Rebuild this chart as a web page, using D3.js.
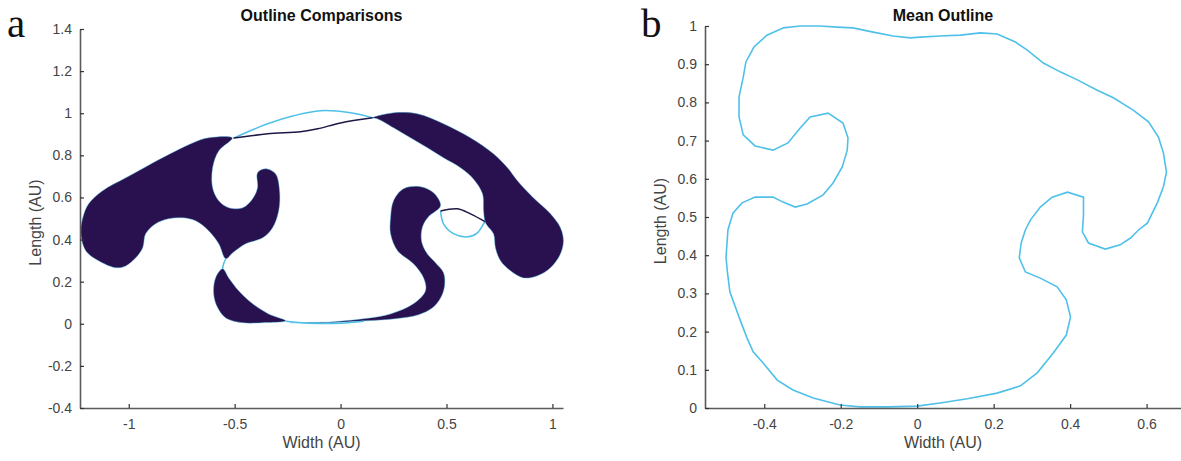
<!DOCTYPE html>
<html>
<head>
<meta charset="utf-8">
<script src="https://cdn.jsdelivr.net/npm/d3@7"></script>
<style>
  body { margin: 0; background: white; }
  #container { width: 1181px; height: 461px; }
  text { font-family: "Liberation Sans", Arial, sans-serif; }
</style>
</head>
<body>
<div id="container"></div>
<script>
// outline comparison blobs (width, length) in AU
let upperLeftBlob = [
  [-0.511, 0.882], [-0.623, 0.883], [-0.698, 0.859], [-0.778, 0.821], [-0.887, 0.764],
  [-1.014, 0.693], [-1.123, 0.632], [-1.189, 0.570], [-1.217, 0.503], [-1.226, 0.427],
  [-1.203, 0.347], [-1.142, 0.299], [-1.061, 0.266], [-1.014, 0.275], [-0.967, 0.313],
  [-0.934, 0.361], [-0.920, 0.427], [-0.873, 0.475], [-0.811, 0.499], [-0.745, 0.503],
  [-0.684, 0.489], [-0.623, 0.442], [-0.575, 0.380], [-0.542, 0.309], [-0.509, 0.337],
  [-0.448, 0.380], [-0.368, 0.408], [-0.321, 0.456], [-0.292, 0.537], [-0.288, 0.632],
  [-0.307, 0.712], [-0.354, 0.736], [-0.392, 0.717], [-0.392, 0.646], [-0.415, 0.594],
  [-0.462, 0.551], [-0.528, 0.551], [-0.575, 0.584], [-0.604, 0.646], [-0.604, 0.741],
  [-0.575, 0.821]
];
let lowerLeftBlob = [
  [-0.557, 0.261], [-0.590, 0.218], [-0.599, 0.142], [-0.580, 0.076], [-0.542, 0.028],
  [-0.462, 0.005], [-0.368, 0.005], [-0.259, 0.014], [-0.340, 0.047], [-0.415, 0.095],
  [-0.481, 0.157], [-0.528, 0.218]
];
let rightArcBlob = [
  [0.151, 0.978], [0.250, 1.002], [0.363, 0.997], [0.486, 0.950], [0.613, 0.883],
  [0.722, 0.807], [0.788, 0.741], [0.835, 0.679], [0.910, 0.598], [0.991, 0.522],
  [1.038, 0.456], [1.052, 0.394], [1.038, 0.332], [0.991, 0.266], [0.929, 0.228],
  [0.863, 0.218], [0.802, 0.252], [0.755, 0.299], [0.731, 0.361], [0.722, 0.427],
  [0.684, 0.480], [0.675, 0.537], [0.670, 0.617], [0.627, 0.688], [0.566, 0.741],
  [0.486, 0.788], [0.410, 0.836], [0.330, 0.883], [0.250, 0.931], [0.175, 0.973]
];
let sBlob = [
  [0.297, 0.641], [0.377, 0.651], [0.439, 0.622], [0.472, 0.560], [0.415, 0.508],
  [0.387, 0.461], [0.382, 0.394], [0.406, 0.337], [0.448, 0.290], [0.486, 0.242],
  [0.491, 0.180], [0.472, 0.123], [0.434, 0.076], [0.368, 0.043], [0.259, 0.024],
  [0.118, 0.014], [-0.047, 0.005], [-0.236, 0.005], [-0.047, 0.009], [0.108, 0.024],
  [0.236, 0.047], [0.344, 0.095], [0.401, 0.157], [0.392, 0.218], [0.344, 0.285],
  [0.269, 0.347], [0.236, 0.427], [0.236, 0.503], [0.250, 0.584]
];

// outline traces visible outside the blobs
let meanTopTrace = [[-0.505, 0.882], [-0.344, 0.950], [-0.222, 0.988], [-0.094, 1.012], [0.047, 1.002], [0.151, 0.978]];
let sampleTopTrace = [[-0.505, 0.882], [-0.344, 0.902], [-0.189, 0.912], [-0.108, 0.926], [0.000, 0.954], [0.151, 0.978]];
let meanLoopTrace = [[0.472, 0.536], [0.486, 0.475], [0.533, 0.428], [0.599, 0.413], [0.646, 0.432], [0.675, 0.475], [0.684, 0.489]];
let sampleLoopTrace = [[0.472, 0.536], [0.552, 0.546], [0.613, 0.522], [0.684, 0.484]];
let meanPinchTrace = [[-0.542, 0.309], [-0.552, 0.285], [-0.557, 0.261]];
let meanBottomTrace = [[-0.259, 0.012], [-0.150, 0.003], [0.000, 0.003], [0.110, 0.012]];

// mean outline
let meanOutline = [
  [-0.351, 0.995], [-0.306, 1.000], [-0.254, 1.000], [-0.209, 0.997], [-0.168, 0.995],
  [-0.115, 0.984], [-0.063, 0.974], [-0.018, 0.969], [0.008, 0.971], [0.060, 0.974],
  [0.113, 0.976], [0.165, 0.982], [0.209, 0.979], [0.257, 0.958], [0.288, 0.937],
  [0.330, 0.903], [0.374, 0.880], [0.419, 0.859], [0.471, 0.832], [0.513, 0.812],
  [0.565, 0.780], [0.605, 0.749], [0.631, 0.709], [0.644, 0.668], [0.652, 0.618],
  [0.644, 0.579], [0.628, 0.537], [0.602, 0.484], [0.579, 0.466], [0.558, 0.445],
  [0.531, 0.427], [0.492, 0.416], [0.448, 0.432], [0.432, 0.461], [0.435, 0.505],
  [0.435, 0.552], [0.393, 0.565], [0.353, 0.552], [0.322, 0.526], [0.296, 0.492],
  [0.283, 0.466], [0.272, 0.432], [0.267, 0.393], [0.283, 0.356], [0.322, 0.340],
  [0.366, 0.317], [0.390, 0.283], [0.401, 0.238], [0.390, 0.191], [0.356, 0.144],
  [0.314, 0.092], [0.270, 0.058], [0.209, 0.039], [0.131, 0.024], [0.060, 0.013],
  [0.000, 0.005], [-0.079, 0.003], [-0.149, 0.003], [-0.202, 0.008], [-0.272, 0.026],
  [-0.325, 0.047], [-0.366, 0.073], [-0.403, 0.118], [-0.429, 0.147], [-0.445, 0.183],
  [-0.463, 0.230], [-0.490, 0.304], [-0.497, 0.361], [-0.500, 0.395], [-0.495, 0.466],
  [-0.482, 0.510], [-0.458, 0.537], [-0.424, 0.552], [-0.377, 0.552], [-0.351, 0.539],
  [-0.319, 0.526], [-0.288, 0.534], [-0.246, 0.558], [-0.220, 0.589], [-0.196, 0.631],
  [-0.183, 0.675], [-0.181, 0.707], [-0.194, 0.746], [-0.233, 0.772], [-0.280, 0.762],
  [-0.306, 0.733], [-0.338, 0.694], [-0.377, 0.675], [-0.424, 0.686], [-0.455, 0.715],
  [-0.466, 0.762], [-0.466, 0.814], [-0.455, 0.866], [-0.448, 0.906], [-0.427, 0.945],
  [-0.393, 0.976]
];

let leftXTicks = [-1, -0.5, 0, 0.5, 1];
let leftYTicks = [-0.4, -0.2, 0, 0.2, 0.4, 0.6, 0.8, 1, 1.2, 1.4];
let rightXTicks = [-0.4, -0.2, 0, 0.2, 0.4, 0.6];
let rightYTicks = [0, 0.1, 0.2, 0.3, 0.4, 0.5, 0.6, 0.7, 0.8, 0.9, 1];

const container = d3.select("#container");
const blue = "#4fc1e9";
const fillColor = "#29104f";
const axisColor = "#5a5a5a";

let svg = container
  .append("svg")
  .attr("width", 1181)
  .attr("height", 461);

let fmt = d => String(+d.toFixed(2));

let drawAxes = (g, x, y, xTicks, yTicks, title, letter, letterX) => {
  let [x0, x1] = x.range();
  let [y0, y1] = y.range();

  let xAxis = g.append("g")
    .attr("transform", `translate(0,${y0})`)
    .call(d3.axisBottom(x).tickValues(xTicks).tickFormat(fmt).tickSizeInner(-4).tickSizeOuter(0).tickPadding(11));
  let yAxis = g.append("g")
    .attr("transform", `translate(${x0},0)`)
    .call(d3.axisLeft(y).tickValues(yTicks).tickFormat(fmt).tickSizeInner(-4).tickSizeOuter(0).tickPadding(8));

  [xAxis, yAxis].forEach(a => {
    a.select(".domain").attr("stroke", axisColor).attr("stroke-width", 1.6);
    a.selectAll(".tick line").attr("stroke", "#333").attr("stroke-width", 1.2);
    a.selectAll(".tick text").attr("fill", "#444").style("font-size", "14px");
  });

  g.append("text")
    .attr("x", (x0 + x1) / 2)
    .attr("y", 448)
    .attr("text-anchor", "middle")
    .attr("fill", "#444")
    .style("font-size", "16px")
    .text("Width (AU)");

  g.append("text")
    .attr("transform", `translate(${x0 - 39},${(y0 + y1) / 2 + 4}) rotate(-90)`)
    .attr("text-anchor", "middle")
    .attr("fill", "#444")
    .style("font-size", "16px")
    .text("Length (AU)");

  g.append("text")
    .attr("x", (x0 + x1) / 2)
    .attr("y", 21)
    .attr("text-anchor", "middle")
    .attr("fill", "#111")
    .style("font-size", "16px")
    .style("font-weight", "bold")
    .text(title);

  g.append("text")
    .attr("x", letterX)
    .attr("y", 37)
    .attr("fill", "#111")
    .style("font-family", "'Liberation Serif', 'DejaVu Serif', serif")
    .style("font-size", "41px")
    .text(letter);
};

// panel a
let xa = d3.scaleLinear().domain([-1.23, 1.05]).range([80, 563]);
let ya = d3.scaleLinear().domain([-0.4, 1.4]).range([408, 29]);
let lineA = d3.line().x(d => xa(d[0])).y(d => ya(d[1]));
let panelA = svg.append("g");

panelA.selectAll("path.blob")
  .data([upperLeftBlob, lowerLeftBlob, rightArcBlob, sBlob])
  .enter()
  .append("path")
  .attr("class", "blob")
  .attr("d", d => lineA.curve(d3.curveCatmullRomClosed)(d))
  .attr("fill", fillColor)
  .attr("stroke", blue)
  .attr("stroke-opacity", 0.55)
  .attr("stroke-width", 0.8);

lineA.curve(d3.curveCatmullRom);

panelA.selectAll("path.mean")
  .data([meanTopTrace, meanLoopTrace, meanPinchTrace, meanBottomTrace])
  .enter()
  .append("path")
  .attr("class", "mean")
  .attr("d", lineA)
  .attr("fill", "none")
  .attr("stroke", blue)
  .attr("stroke-width", 1.5);

panelA.selectAll("path.sample")
  .data([sampleTopTrace, sampleLoopTrace])
  .enter()
  .append("path")
  .attr("class", "sample")
  .attr("d", lineA)
  .attr("fill", "none")
  .attr("stroke", "#1d1846")
  .attr("stroke-width", 1.5);

drawAxes(panelA, xa, ya, leftXTicks, leftYTicks, "Outline Comparisons", "a", 7);

// panel b
let xb = d3.scaleLinear().domain([-0.555, 0.69]).range([705, 1181]);
let yb = d3.scaleLinear().domain([0, 1]).range([408, 26]);
let lineB = d3.line().x(d => xb(d[0])).y(d => yb(d[1])).curve(d3.curveLinearClosed);
let panelB = svg.append("g");

panelB.append("path")
  .attr("d", lineB(meanOutline))
  .attr("fill", "none")
  .attr("stroke", blue)
  .attr("stroke-width", 1.6);

drawAxes(panelB, xb, yb, rightXTicks, rightYTicks, "Mean Outline", "b", 641);
</script>
</body>
</html>
